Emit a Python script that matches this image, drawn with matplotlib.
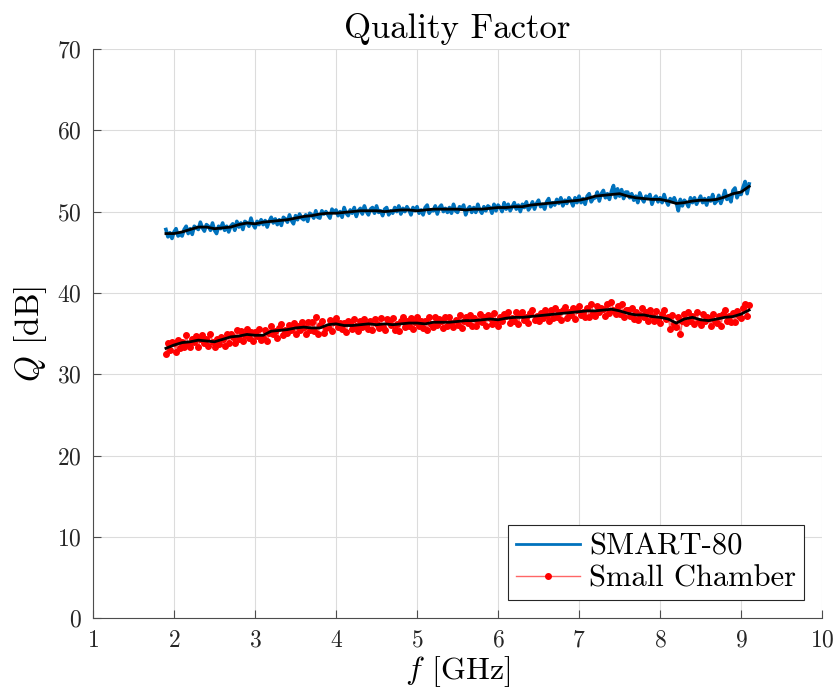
import matplotlib
matplotlib.use("Agg")
import matplotlib.pyplot as plt
import numpy as np

plt.rcParams['font.family'] = 'serif'
plt.rcParams['font.serif'] = ['cmr10']
plt.rcParams['mathtext.fontset'] = 'cm'
plt.rcParams['axes.formatter.use_mathtext'] = True

# raw measured Q (dB), sampled every 0.025 GHz from 1.9 to 9.1 GHz
smart80_raw = [
    47.8, 46.9, 47.4, 46.7, 47.5, 47.9, 47.0, 47.2, 47.0, 47.8, 48.2, 47.3,
    47.9, 47.2, 48.2, 48.0, 47.8, 48.7, 48.0, 47.6, 48.4, 48.2, 47.7, 48.6,
    47.7, 47.3, 48.2, 47.9, 48.6, 47.7, 48.2, 47.5, 48.2, 48.5, 47.7, 48.8,
    48.1, 48.6, 47.8, 48.8, 48.6, 48.2, 49.2, 48.4, 48.0, 48.8, 48.4, 49.0,
    48.4, 48.9, 48.1, 48.8, 49.3, 48.6, 49.1, 48.4, 49.0, 48.3, 49.3, 49.1,
    48.7, 49.6, 48.9, 48.5, 49.5, 49.0, 49.7, 49.2, 49.0, 49.6, 48.8, 49.8,
    49.6, 49.2, 50.1, 49.3, 49.2, 50.1, 49.7, 50.0, 49.6, 49.2, 50.3, 49.9,
    50.2, 49.5, 50.0, 49.3, 50.5, 49.8, 49.5, 50.2, 49.8, 50.5, 49.4, 50.1,
    50.4, 49.7, 50.7, 50.0, 49.6, 50.3, 50.5, 49.8, 50.7, 49.9, 50.1, 49.5,
    50.3, 50.5, 49.6, 50.1, 49.8, 50.5, 50.0, 50.7, 49.7, 50.4, 50.0, 50.6,
    50.2, 49.6, 50.5, 50.1, 50.6, 49.8, 50.2, 49.6, 50.5, 50.8, 49.8, 50.2,
    50.1, 50.7, 49.7, 50.5, 50.8, 50.0, 50.4, 49.9, 50.5, 49.8, 50.9, 50.1,
    49.9, 50.6, 50.3, 50.8, 49.6, 50.3, 50.6, 49.9, 50.5, 49.9, 50.9, 50.2,
    49.8, 50.6, 50.1, 50.7, 50.5, 49.8, 50.9, 50.1, 50.8, 50.5, 50.0, 51.1,
    50.3, 50.9, 50.1, 50.6, 51.1, 50.3, 50.8, 50.0, 50.9, 50.5, 51.2, 50.2,
    50.6, 51.2, 50.3, 51.0, 51.4, 50.6, 50.9, 50.3, 51.2, 51.6, 50.6, 51.1,
    50.8, 51.5, 51.0, 51.7, 50.7, 51.4, 51.0, 51.7, 51.3, 50.7, 51.7, 51.1,
    51.9, 51.1, 51.6, 50.9, 51.9, 52.2, 51.2, 51.6, 51.7, 52.4, 51.3, 52.2,
    52.6, 51.7, 52.2, 51.5, 52.5, 53.2, 51.7, 52.8, 51.9, 52.7, 51.6, 52.4,
    52.4, 51.7, 52.2, 51.4, 51.9, 51.1, 52.3, 51.6, 51.2, 51.9, 51.6, 52.1,
    50.9, 51.6, 51.9, 51.2, 51.7, 51.1, 52.1, 51.3, 50.8, 51.6, 51.2, 51.7,
    51.1, 50.1, 51.5, 50.7, 51.4, 51.1, 50.6, 51.7, 51.1, 51.7, 50.9, 51.4,
    51.9, 51.1, 51.6, 50.8, 51.7, 51.3, 52.1, 51.0, 51.3, 52.0, 51.0, 51.7,
    52.6, 51.5, 51.9, 51.2, 52.6, 52.9, 51.7, 52.3, 52.1, 53.0, 53.7, 52.2,
    53.4,
]
small_raw = [
    32.5, 33.8, 33.0, 34.0, 33.9, 32.8, 34.2, 33.2, 34.0, 33.3, 34.8, 33.7,
    33.3, 34.4, 34.0, 34.7, 33.4, 34.3, 34.8, 33.8, 34.4, 33.5, 34.9, 34.0,
    33.3, 34.4, 33.7, 34.6, 34.4, 33.5, 35.0, 33.9, 35.0, 34.6, 33.9, 35.4,
    34.4, 35.3, 34.1, 34.8, 35.6, 34.5, 35.2, 34.1, 35.2, 34.7, 35.6, 34.2,
    34.5, 35.4, 34.1, 35.1, 36.0, 34.9, 35.3, 34.5, 35.7, 36.2, 34.8, 35.5,
    35.1, 36.1, 35.4, 36.3, 35.0, 36.0, 35.4, 36.4, 35.8, 35.0, 36.4, 35.5,
    36.4, 35.3, 37.1, 35.0, 36.1, 36.5, 35.1, 35.7, 35.8, 36.7, 35.3, 36.4,
    36.9, 35.8, 36.3, 35.6, 36.3, 35.2, 36.6, 36.3, 35.6, 36.8, 35.9, 35.3,
    36.5, 35.8, 36.8, 36.1, 35.6, 36.5, 35.4, 36.8, 36.2, 35.7, 36.9, 35.8,
    35.5, 36.8, 36.5, 36.1, 36.9, 35.5, 36.2, 35.3, 36.6, 37.0, 35.8, 36.5,
    36.0, 36.9, 35.6, 36.4, 37.0, 35.9, 36.6, 35.7, 36.6, 35.4, 37.0, 36.2,
    35.8, 37.0, 36.1, 36.8, 36.5, 35.7, 37.1, 36.0, 37.0, 36.3, 35.8, 36.7,
    36.1, 37.3, 35.7, 36.6, 37.0, 36.3, 37.3, 35.9, 36.9, 36.0, 36.6, 37.4,
    36.4, 37.1, 35.9, 37.3, 36.9, 36.2, 37.5, 36.5, 36.0, 37.1, 36.6, 37.4,
    37.2, 37.7, 36.3, 36.9, 36.6, 37.6, 36.2, 37.4, 37.7, 36.7, 37.1, 36.3,
    37.5, 37.9, 36.7, 37.2, 36.6, 37.5, 36.9, 37.9, 37.3, 36.5, 37.9, 36.9,
    38.1, 37.0, 37.7, 36.7, 37.9, 38.3, 36.9, 37.6, 37.3, 38.2, 36.8, 37.9,
    38.4, 37.3, 37.7, 37.1, 38.2, 37.0, 38.6, 37.5, 37.2, 38.4, 37.7, 38.2,
    38.0, 37.2, 38.6, 37.5, 38.9, 37.9, 37.4, 38.4, 37.4, 38.6, 37.0, 37.9,
    37.9, 37.2, 38.2, 36.8, 37.6, 36.7, 37.3, 38.1, 37.0, 37.7, 36.5, 37.9,
    37.2, 36.5, 37.8, 36.8, 36.3, 37.4, 37.9, 36.8, 37.1, 35.6, 37.3, 36.2,
    35.8, 37.0, 34.9, 36.6, 37.4, 36.3, 37.6, 36.5, 37.2, 36.2, 37.6, 36.6,
    36.1, 37.4, 36.5, 37.1, 36.9, 35.9, 37.4, 36.5, 36.3, 37.2, 36.0, 37.4,
    37.9, 36.6, 37.2, 36.4, 37.5, 36.4, 37.8, 37.2, 36.9, 38.2, 38.6, 37.2,
    38.5,
]

# smoothed curves, every 0.1 GHz from 1.9 to 9.1 GHz
smart80_smooth = [
    47.3, 47.3, 47.5, 47.8, 48.1, 48.1, 47.9, 48.0, 48.1, 48.4, 48.6, 48.5,
    48.7, 48.8, 48.9, 49.0, 49.2, 49.4, 49.5, 49.7, 49.8, 49.8, 49.9, 50.0,
    50.1, 50.1, 50.1, 50.0, 50.1, 50.2, 50.2, 50.1, 50.2, 50.3, 50.3, 50.3,
    50.3, 50.2, 50.3, 50.3, 50.4, 50.5, 50.5, 50.6, 50.6, 50.8, 50.9, 51.0,
    51.1, 51.2, 51.3, 51.4, 51.6, 51.9, 52.0, 52.1, 52.2, 51.9, 51.7, 51.6,
    51.5, 51.5, 51.3, 51.0, 51.1, 51.3, 51.4, 51.4, 51.5, 51.8, 52.2, 52.4,
    53.1,
]
small_smooth = [
    33.2, 33.6, 33.9, 34.0, 34.2, 34.1, 34.0, 34.3, 34.6, 34.7, 34.9, 34.8,
    34.8, 35.3, 35.4, 35.5, 35.7, 35.8, 35.7, 35.7, 36.1, 36.2, 36.0, 36.0,
    36.1, 36.2, 36.1, 36.2, 36.1, 36.2, 36.3, 36.3, 36.2, 36.4, 36.4, 36.4,
    36.5, 36.6, 36.6, 36.7, 36.8, 36.7, 36.9, 37.0, 37.0, 37.1, 37.2, 37.3,
    37.4, 37.5, 37.6, 37.7, 37.8, 37.8, 37.9, 38.0, 37.8, 37.5, 37.3, 37.3,
    37.1, 37.0, 36.8, 36.3, 36.8, 37.0, 36.7, 36.6, 36.8, 37.0, 37.1, 37.4,
    37.9,
]

f_raw = np.linspace(1.9, 9.1, len(smart80_raw))
f_smooth = np.linspace(1.9, 9.1, len(smart80_smooth))

fig = plt.figure(figsize=(8.38, 6.98), dpi=100)
ax = fig.add_axes([0.111, 0.114, 0.870, 0.816])

ax.plot(f_raw, smart80_raw, color='#0072BD', lw=2.6, label='SMART-80')
ax.plot(f_raw, small_raw, color=(1, 0, 0, 0.6), lw=1.2, marker='.', ms=8,
        mfc='r', mec='r', label='Small Chamber')
ax.plot(f_smooth, smart80_smooth, color='k', lw=2.0)
ax.plot(f_smooth, small_smooth, color='k', lw=2.0)

ax.set_xlim(1, 10)
ax.set_ylim(0, 70)
ax.set_xticks(range(1, 11))
ax.set_yticks(range(0, 71, 10))
ax.grid(True, color='#dcdcdc', lw=0.8)
ax.set_axisbelow(True)
for s in ['top', 'right']:
    ax.spines[s].set_visible(False)
for s in ['left', 'bottom']:
    ax.spines[s].set_color('#4d4d4d')
ax.tick_params(direction='in', length=6, color='#4d4d4d', labelsize=17,
               labelcolor='#262626', pad=8)

ax.set_title('Quality Factor', fontsize=25, pad=8)
ax.set_xlabel(r'$f$ [GHz]', fontsize=23, labelpad=2)
ax.set_ylabel(r'$Q$ [dB]', fontsize=24, labelpad=6)

leg = ax.legend(loc='lower right', fontsize=22, fancybox=False, framealpha=1,
                edgecolor='#262626', borderpad=0.25, labelspacing=0.15,
                handlelength=2.1, handletextpad=0.3, borderaxespad=0.6)
leg.get_frame().set_linewidth(0.8)
for h in leg.get_lines():
    h.set_linewidth(2.0 if h.get_marker() in ('None', None, '') else 1.0)

fig.savefig('out.png', dpi=100)
